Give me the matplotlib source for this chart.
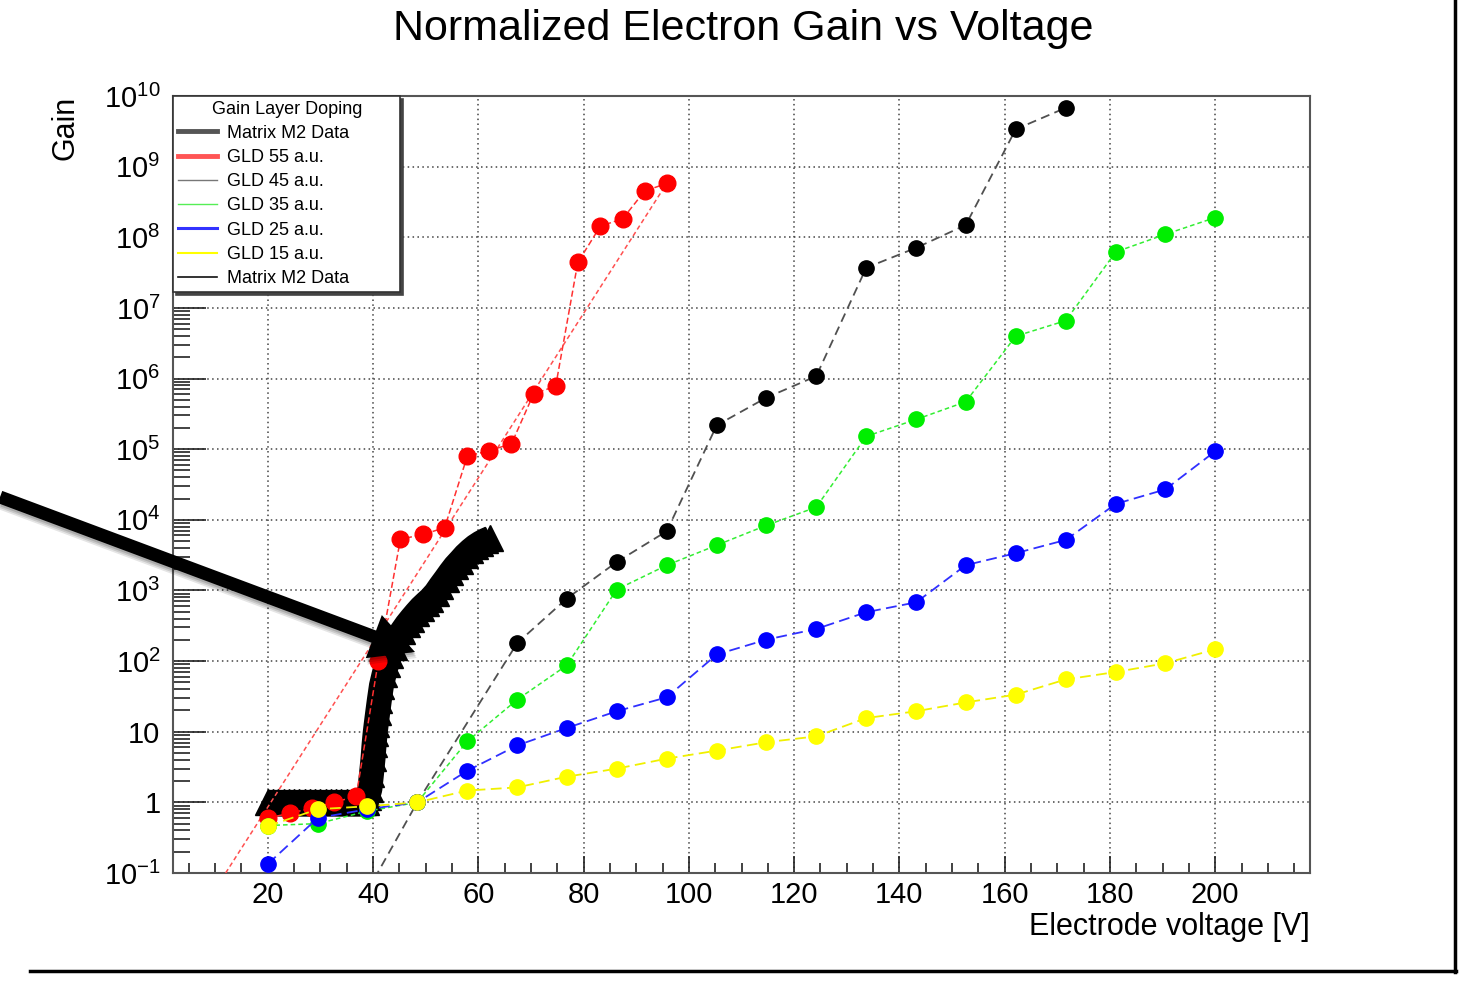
import numpy as np
import matplotlib
matplotlib.use('Agg')
import matplotlib.pyplot as plt
from matplotlib.lines import Line2D
from matplotlib.patches import FancyArrow
from matplotlib.ticker import LogLocator, MultipleLocator, NullFormatter

plt.rcParams['font.family'] = 'Liberation Sans'
plt.rcParams['mathtext.fontset'] = 'custom'
plt.rcParams['mathtext.rm'] = 'Liberation Sans'
plt.rcParams['mathtext.it'] = 'Liberation Sans:italic'
plt.rcParams['mathtext.bf'] = 'Liberation Sans:bold'

#%% data

# simulated bias points [V]
v_sim = [20.0, 29.5, 38.9, 48.4, 57.9, 67.4, 76.8, 86.3, 95.8, 105.3,
         114.7, 124.2, 133.7, 143.2, 152.6, 162.1, 171.6, 181.1, 190.5, 200.0]

gld15 = [0.46, 0.80, 0.88, 1.0, 1.47, 1.63, 2.31, 3.0, 4.16, 5.4,
         7.1, 8.6, 15.6, 19.5, 26, 33.5, 55, 70, 93, 147]
gld25 = [0.134, 0.60, 0.80, 1.0, 2.8, 6.4, 11.3, 19.5, 30.7, 124,
         201, 285, 492, 680, 2280, 3370, 5190, 16800, 26900, 93500]
gld35 = [0.47, 0.50, 0.75, 1.0, 7.3, 28.5, 87, 1030, 2275, 4370,
         8330, 15100, 1.52e5, 2.64e5, 4.69e5, 3.98e6, 6.6e6, 6.2e7, 1.1e8, 1.9e8]

gld45_v = [38.9, 48.4, 67.4, 76.8, 86.3, 95.8, 105.3, 114.7, 124.2,
           133.7, 143.2, 152.6, 162.1, 171.6]
gld45 = [0.055, 1.0, 180, 767, 2530, 6900, 2.18e5, 5.35e5, 1.08e6,
         3.7e7, 7.1e7, 1.49e8, 3.38e9, 6.8e9]

gld55_v = [20.0, 24.2, 28.4, 32.6, 36.8, 41.0, 45.2, 49.4, 53.6, 57.9,
           62.1, 66.3, 70.5, 74.7, 78.9, 83.2, 87.4, 91.6, 95.8]
gld55 = [0.60, 0.70, 0.83, 1.0, 1.22, 100, 5300, 6200, 7700, 7.94e4,
         9.56e4, 1.19e5, 6.05e5, 7.8e5, 4.4e7, 1.44e8, 1.82e8, 4.5e8, 5.8e8]

# straight red dashed line (exponential fit) end points
fit55_v = [12.0, 95.8]
fit55 = [0.1, 5.8e8]

# measured Matrix M2 data
m2_v = [20, 21, 22, 23, 24, 25, 26, 27, 28, 29, 30, 31, 32, 33, 34, 35, 36, 37, 38,
        38.6, 39.0, 39.4, 39.7, 40.0, 40.2, 40.4, 40.6, 40.9, 41.2, 41.6, 42.1,
        42.6, 43.2, 43.9, 44.7, 45.5, 46.4, 47.3, 48.2, 49.1, 50.0, 50.9, 51.9,
        52.8, 53.8, 54.7, 55.6, 56.6, 57.5, 58.5, 59.4, 60.4, 61.3, 62.3]
m2_gain = [1.0] * 19 + [1.0, 1.2, 1.55, 2.5, 4.2, 6.6, 9.5, 12.7, 19, 28, 45, 65,
                        90, 120, 160, 210, 265, 330, 400, 480, 570, 660, 760, 920,
                        1150, 1450, 1800, 2200, 2650, 3150, 3700, 4200, 4700, 5100, 5500]

decades = [1e-1, 1, 10, 1e2, 1e3, 1e4, 1e5, 1e6, 1e7, 1e8, 1e9, 1e10]
decade_labels = ['$10^{-1}$', '1', '10', '$10^{2}$', '$10^{3}$', '$10^{4}$',
                 '$10^{5}$', '$10^{6}$', '$10^{7}$', '$10^{8}$', '$10^{9}$', '$10^{10}$']
x_major = [20, 40, 60, 80, 100, 120, 140, 160, 180, 200]

legend_labels = ['Matrix M2 Data', 'GLD 55 a.u.', 'GLD 45 a.u.', 'GLD 35 a.u.',
                 'GLD 25 a.u.', 'GLD 15 a.u.', 'Matrix M2 Data']

#%% figure

W, H = 1460, 981
fig = plt.figure(figsize=(W / 100, H / 100), dpi=100)
fig.patch.set_facecolor('white')
ax = fig.add_axes([173 / W, (H - 873) / H, 1137 / W, 777 / H])

ax.set_yscale('log')
ax.set_xlim(2, 218)
ax.set_ylim(0.1, 1e10)

ms = 11
# measured data: dense triangles forming a thick band
ax.plot(m2_v, m2_gain, color='black', lw=18, solid_capstyle='butt',
        solid_joinstyle='round', zorder=2)
ax.plot(m2_v, m2_gain, ls='none', marker='^', ms=19, color='black', zorder=2)

ax.plot(fit55_v, fit55, color='#ff5050', lw=1.1, ls=(0, (3, 2)), zorder=3)
ax.plot(gld55_v, gld55, color='#ff3030', lw=1.1, ls=(0, (4, 2)), marker='o',
        ms=ms + 1, mfc='#ff0000', mec='#ff0000', zorder=3)
ax.plot(gld45_v, gld45, color='#505050', lw=1.3, ls=(0, (5, 3)), marker='o',
        ms=ms, mfc='black', mec='black', zorder=3)
ax.plot(v_sim, gld35, color='#33ee33', lw=1.1, ls=(0, (3, 2)), marker='o',
        ms=ms, mfc='#00ee00', mec='#00ee00', zorder=3)
ax.plot(v_sim, gld25, color='#3030ff', lw=1.3, ls=(0, (6, 3)), marker='o',
        ms=ms, mfc='#0000ff', mec='#0000ff', zorder=3)
ax.plot(v_sim, gld15, color='#f0f000', lw=1.3, ls=(0, (6, 3)), marker='o',
        ms=ms, mfc='#ffff00', mec='#ffff00', zorder=3)

# axes in ROOT style
ax.set_xticks(x_major)
ax.xaxis.set_minor_locator(MultipleLocator(5))
ax.set_yticks(decades, decade_labels)
ax.yaxis.set_minor_locator(LogLocator(base=10, subs=np.arange(2, 10), numticks=30))
ax.yaxis.set_minor_formatter(NullFormatter())
ax.tick_params(which='both', direction='in', top=False, right=False,
               labelsize=21, color='#222222', width=1.2)
ax.tick_params(axis='x', which='major', length=12, pad=6)
ax.tick_params(axis='x', which='minor', length=7)
ax.tick_params(axis='y', which='major', length=24, pad=9)
ax.tick_params(axis='y', which='minor', length=12)
for s in ax.spines.values():
    s.set_color('#555555')
    s.set_linewidth(1.5)

ax.grid(True, which='major', color='#444444', lw=1.1, ls=(0, (1, 2.2)))

ax.set_xlabel('Electrode voltage [V]', fontsize=22, loc='right')
ax.xaxis.set_label_coords(1.0, -0.05)
ax.set_ylabel('Gain', fontsize=22, loc='top')
ax.yaxis.set_label_coords(-0.0815, 1.0)

fig.text(743 / W, 1 - 29 / H, 'Normalized Electron Gain vs Voltage',
         fontsize=31, ha='center', va='center')

handles = [Line2D([], [], color='#555555', lw=3.5),
           Line2D([], [], color='#ff5555', lw=3.5),
           Line2D([], [], color='#777777', lw=1.0),
           Line2D([], [], color='#55ee55', lw=1.0),
           Line2D([], [], color='#3333ff', lw=2.2),
           Line2D([], [], color='#ffff00', lw=1.5),
           Line2D([], [], color='#111111', lw=1.2)]
leg = ax.legend(handles, legend_labels, title='Gain Layer Doping',
                loc='upper left', bbox_to_anchor=(0.0, 0.0, 0.2, 1.0),
                mode='expand', borderaxespad=0, fontsize=13, title_fontsize=13,
                fancybox=False, framealpha=1, edgecolor='#333333',
                handlelength=2.2, handletextpad=0.55, labelspacing=0.40,
                borderpad=0.25,
                shadow={'ox': 2.2, 'oy': -2.2, 'color': '#444444', 'alpha': 1})
leg.get_frame().set_linewidth(1.2)
leg.set_zorder(6)

#%% slide annotations: arrow and frame lines
tr = fig.dpi_scale_trans
x0, y0 = 0.0, (H - 497) / 100
x1, y1 = 4.15, (H - 652) / 100
for off, a in [(0.06, 0.10), (0.04, 0.12), (0.02, 0.15)]:
    fig.add_artist(FancyArrow(x0 + off * 0.3, y0 - off, x1 - x0, y1 - y0, width=0.14,
                              head_width=0.47, head_length=0.44,
                              length_includes_head=True, color='black', alpha=a,
                              lw=0, transform=tr, zorder=9))
fig.add_artist(FancyArrow(x0, y0, x1 - x0, y1 - y0, width=0.13, head_width=0.46,
                          head_length=0.44, length_includes_head=True,
                          color='black', lw=0, transform=tr, zorder=10))

fig.add_artist(Line2D([14.545, 14.545], [0.09, H / 100], color='black', lw=2.5,
                      transform=tr))
fig.add_artist(Line2D([0.30, 14.56], [0.105, 0.105], color='black', lw=2.5,
                      transform=tr))

fig.savefig('out.png', dpi=100)
